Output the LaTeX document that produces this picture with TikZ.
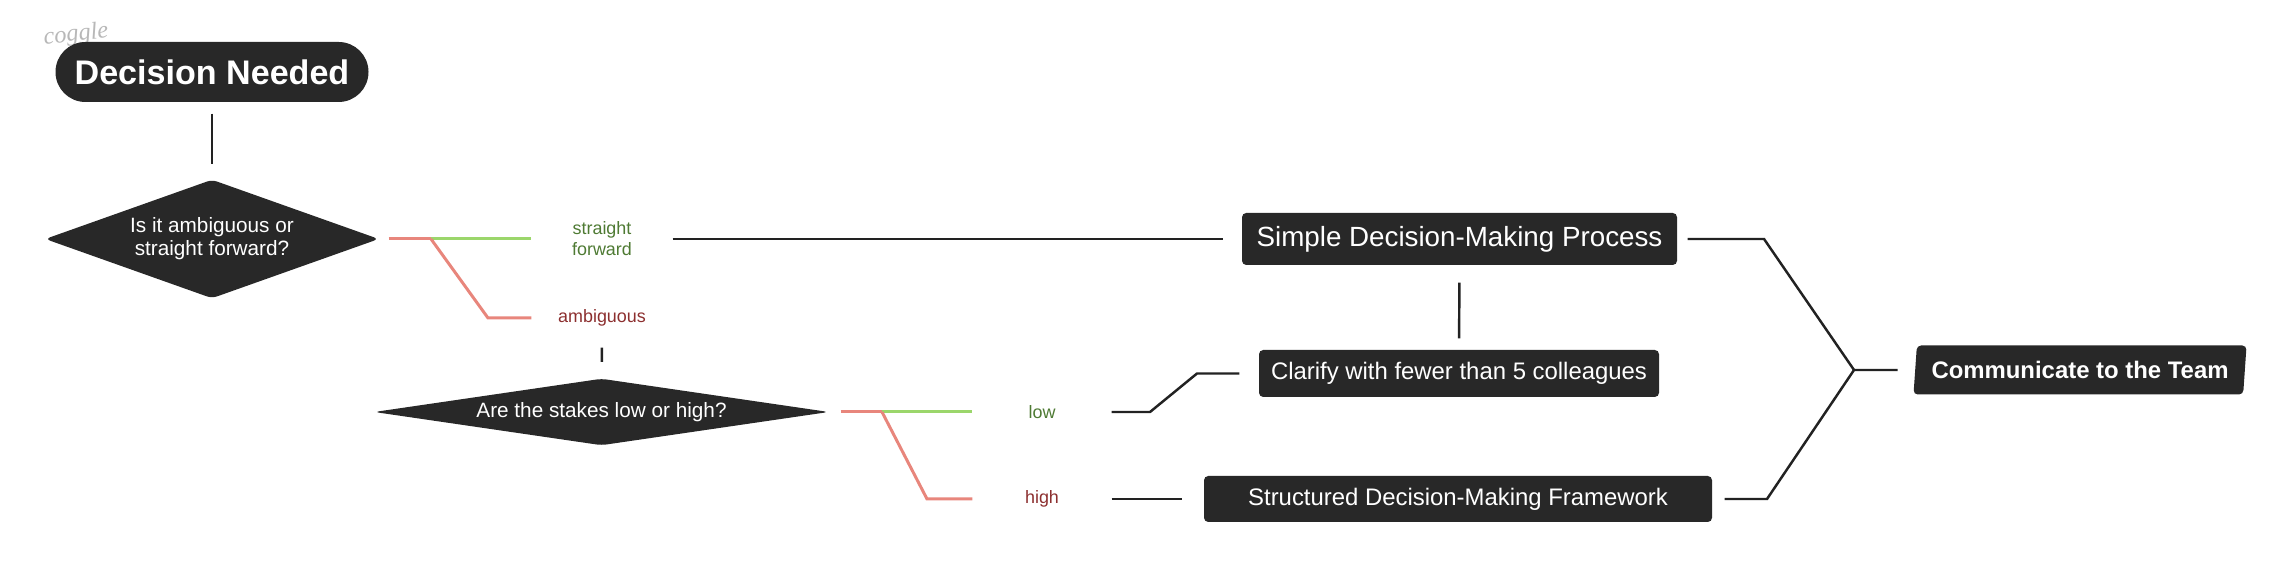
\documentclass[tikz,border=0pt]{standalone}
\usepackage{fontspec}
\setmainfont{Liberation Sans}
\newfontfamily\markfont{Liberation Serif}
\usetikzlibrary{shapes.geometric}
\definecolor{boxfill}{HTML}{282828}
\definecolor{ink}{HTML}{222222}
\definecolor{yesline}{HTML}{9BD66B}
\definecolor{noline}{HTML}{E8867C}
\definecolor{yestext}{HTML}{4E7A33}
\definecolor{notext}{HTML}{8C2F2F}

\begin{document}
\begin{tikzpicture}[
  box/.style={fill=boxfill, text=white, rounded corners=1.2pt, inner sep=0pt},
  ask/.style={diamond, fill=boxfill, text=white, inner sep=0pt, rounded corners=1.5pt, align=center},
  choice/.style={minimum width=1.4cm, minimum height=0.4cm, inner sep=0pt, align=center, font=\fontsize{5.1}{6}\selectfont},
  wire/.style={draw=ink, line width=0.7pt},
  yes/.style={draw=yesline, line width=0.85pt},
  no/.style={draw=noline, line width=0.85pt}]
 \useasboundingbox (0,0) rectangle (22.9,-5.7);

 \node[text=black!28, rotate=6, font=\markfont\itshape\fontsize{6.9}{8}\selectfont] (mark) at (0.76,-0.35) {coggle};

 \node[box, rounded corners=8.5pt, minimum width=3.13cm, minimum height=0.6cm, font=\bfseries\fontsize{9.7}{11}\selectfont] (need) at (2.12,-0.72) {Decision Needed};
 \node[ask, aspect=2.8, minimum width=3.34cm, minimum height=1.19cm, font=\fontsize{5.9}{6.6}\selectfont] (kind) at (2.12,-2.39) {Is it ambiguous or\\straight forward?};

 \node[choice, text=yestext] (straight) at (6.02,-2.39) {straight\\forward};
 \node[choice, text=notext] (ambig) at (6.02,-3.18) {ambiguous};

 \node[ask, aspect=6.8, minimum width=4.55cm, minimum height=0.67cm, font=\fontsize{5.9}{7}\selectfont] (stakes) at (6.015,-4.12) {Are the stakes low or high?};

 \node[choice, minimum width=1.38cm, text=yestext] (low) at (10.42,-4.12) {low};
 \node[choice, minimum width=1.38cm, text=notext] (high) at (10.42,-4.99) {high};

 \node[box, minimum width=4.35cm, minimum height=0.52cm, font=\fontsize{7.9}{9}\selectfont] (simple) at (14.595,-2.39) {Simple Decision-Making Process};
 \node[box, minimum width=4.0cm, minimum height=0.47cm, font=\fontsize{6.8}{8}\selectfont] (clarify) at (14.59,-3.735) {Clarify with fewer than 5 colleagues};
 \node[box, minimum width=5.08cm, minimum height=0.46cm, font=\fontsize{6.8}{8}\selectfont] (framework) at (14.58,-4.99) {Structured Decision-Making Framework};

 \node[box, trapezium, trapezium left angle=80, trapezium right angle=100, trapezium stretches=true, minimum width=3.36cm, minimum height=0.49cm, font=\bfseries\fontsize{6.8}{8}\selectfont] (team) at (20.80,-3.70) {Communicate to the Team};

 \coordinate (k1) at (4.31,-2.39);
 \coordinate (k2) at (4.88,-3.18);
 \coordinate (k3) at (8.82,-4.12);
 \coordinate (k4) at (9.27,-4.99);
 \coordinate (k5) at (11.50,-4.12);
 \coordinate (k6) at (11.97,-3.735);
 \coordinate (k7) at (17.64,-2.39);
 \coordinate (k8) at (17.67,-4.99);
 \coordinate (join) at (18.54,-3.70);

 \draw[wire, shorten <=0.11cm, shorten >=0.15cm] (need) -- (kind);

 \draw[no] ([xshift=0.09cm]kind.east) -- (k1);
 \draw[yes] (k1) -- (straight);
 \draw[no] (k1) -- (k2) -- (ambig);
 \draw[wire, shorten <=0.09cm, shorten >=0.16cm] (ambig) -- (stakes);
 \draw[wire, shorten >=0.18cm] (straight) -- (simple);

 \draw[no] ([xshift=0.11cm]stakes.east) -- (k3);
 \draw[yes] (k3) -- (low);
 \draw[no] (k3) -- (k4) -- (high);
 \draw[wire, shorten >=0.19cm] (low) -- (k5) -- (k6) -- (clarify);
 \draw[wire, shorten >=0.21cm] (high) -- (framework);

 \draw[wire, shorten <=0.17cm, shorten >=0.11cm] (simple) -- (clarify);
 \draw[wire, shorten <=0.1cm] (simple) -- (k7) -- (join);
 \draw[wire, shorten <=0.12cm] (framework) -- (k8) -- (join);
 \draw[wire, shorten >=0.17cm] (join) -- (team);
\end{tikzpicture}
\end{document}
